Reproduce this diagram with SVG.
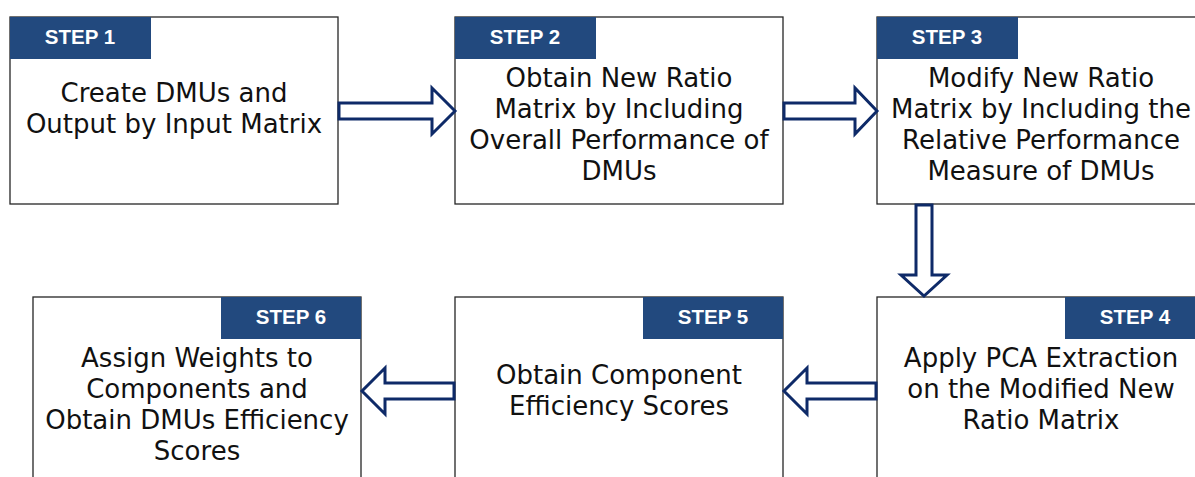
<svg xmlns="http://www.w3.org/2000/svg" width="1195" height="477" viewBox="0 0 1195 477">
  <style>
    .box { fill: #ffffff; stroke: #262626; stroke-width: 1.3; }
    .tag { fill: #22497e; }
    .tagtxt { font-family: "Liberation Sans", Arial, sans-serif; font-weight: bold; font-size: 20.5px; fill: #ffffff; text-anchor: middle; }
    .body { font-family: "DejaVu Sans", Verdana, sans-serif; font-size: 26px; fill: #111111; text-anchor: middle; }
    .arrow { fill: #ffffff; stroke: #0e2a68; stroke-width: 3; stroke-linejoin: miter; }
  </style>
  <rect width="1195" height="477" fill="#ffffff"/>

  <g id="step1">
    <rect class="box" x="10" y="17" width="328" height="187"/>
    <rect class="tag" x="10" y="17" width="141" height="42"/>
    <text class="tagtxt" x="80" y="44">STEP 1</text>
    <text class="body" x="174" y="102">Create DMUs and</text>
    <text class="body" x="174" y="133">Output by Input Matrix</text>
  </g>

  <g id="step2">
    <rect class="box" x="455" y="17" width="328" height="187"/>
    <rect class="tag" x="455" y="17" width="141" height="42"/>
    <text class="tagtxt" x="525" y="44">STEP 2</text>
    <text class="body" x="619" y="87">Obtain New Ratio</text>
    <text class="body" x="619" y="118">Matrix by Including</text>
    <text class="body" x="619" y="149">Overall Performance of</text>
    <text class="body" x="619" y="180">DMUs</text>
  </g>

  <g id="step3">
    <rect class="box" x="877" y="17" width="328" height="187"/>
    <rect class="tag" x="877" y="17" width="141" height="42"/>
    <text class="tagtxt" x="947" y="44">STEP 3</text>
    <text class="body" x="1041" y="87">Modify New Ratio</text>
    <text class="body" x="1041" y="118">Matrix by Including the</text>
    <text class="body" x="1041" y="149">Relative Performance</text>
    <text class="body" x="1041" y="180">Measure of DMUs</text>
  </g>

  <g id="step4">
    <rect class="box" x="877" y="297" width="328" height="190"/>
    <rect class="tag" x="1065" y="297" width="140" height="42"/>
    <text class="tagtxt" x="1135" y="324">STEP 4</text>
    <text class="body" x="1041" y="367">Apply PCA Extraction</text>
    <text class="body" x="1041" y="398">on the Modified New</text>
    <text class="body" x="1041" y="429">Ratio Matrix</text>
  </g>

  <g id="step5">
    <rect class="box" x="455" y="297" width="328" height="190"/>
    <rect class="tag" x="643" y="297" width="140" height="42"/>
    <text class="tagtxt" x="713" y="324">STEP 5</text>
    <text class="body" x="619" y="384">Obtain Component</text>
    <text class="body" x="619" y="415">Efficiency Scores</text>
  </g>

  <g id="step6">
    <rect class="box" x="33" y="297" width="328" height="190"/>
    <rect class="tag" x="221" y="297" width="140" height="42"/>
    <text class="tagtxt" x="291" y="324">STEP 6</text>
    <text class="body" x="197" y="367">Assign Weights to</text>
    <text class="body" x="197" y="398">Components and</text>
    <text class="body" x="197" y="429">Obtain DMUs Efficiency</text>
    <text class="body" x="197" y="460">Scores</text>
  </g>

  <g id="connectors">
    <!-- block arrows between steps -->
    <path class="arrow" d="M339,103 H432 V88 L455,111 L432,134 V119 H339 Z"/>
    <path class="arrow" d="M784,103 H855 V88 L877,111 L855,134 V119 H784 Z"/>
    <path class="arrow" d="M916,205 V275 H901 L924,296 L947,275 H932 V205 Z"/>
    <path class="arrow" d="M876,383 H807 V368 L784,391 L807,414 V399 H876 Z"/>
    <path class="arrow" d="M454,383 H385 V368 L362,391 L385,414 V399 H454 Z"/>
  </g>
</svg>
